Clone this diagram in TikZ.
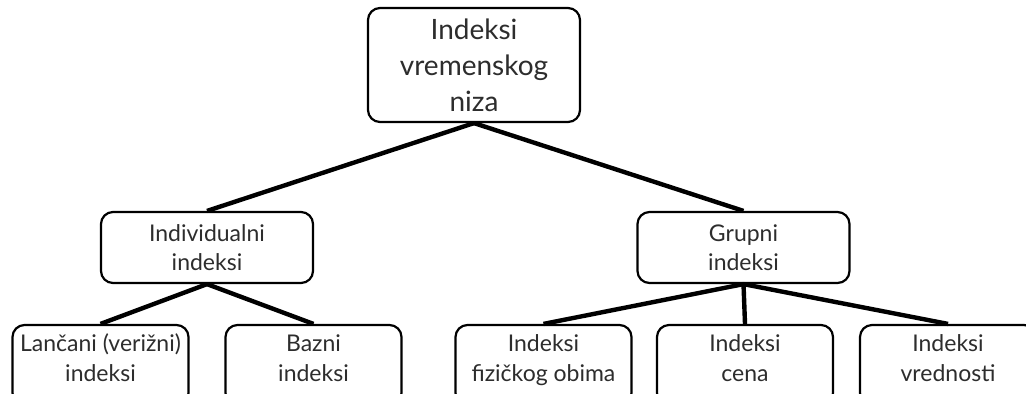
\documentclass[tikz,border=0pt]{standalone}
\usepackage{fontspec}
\setmainfont{Lato}
\definecolor{txtgray}{RGB}{45,45,45}

\begin{document}
\begin{tikzpicture}[x=0.5pt,y=-0.5pt]

%
% Styles
%
\tikzstyle{box} = [rectangle,rounded corners=6pt,draw=black,line width=1.1pt,
  text=txtgray,align=center,inner sep=0pt]
\tikzstyle{leafbox} = [box,minimum width=88pt,minimum height=40pt,text depth=7pt,
  font=\fontsize{11.5}{15}\selectfont]
\tikzstyle{midbox} = [box,minimum width=106pt,minimum height=35.5pt,
  font=\fontsize{11.5}{14.5}\selectfont]
\tikzstyle{topbox} = [box,minimum width=106pt,minimum height=57pt,
  font=\fontsize{14}{18}\selectfont]
\tikzstyle{link} = [line width=2.2pt]

\clip (0,0) rectangle (1026,393);
\fill[white] (0,0) rectangle (1026,393);

\node[topbox] (root) at (474, 65)   {Indeksi\\vremenskog\\niza};

\node[midbox] (ind)  at (207, 247.5) {Individualni\\indeksi};
\node[midbox] (grp)  at (743.5, 247.5) {Grupni\\indeksi};

\node[leafbox] (lanc) at (100.5, 365) {Lančani (verižni)\\indeksi};
\node[leafbox] (baz)  at (313.5, 365) {Bazni\\indeksi};
\node[leafbox] (fiz)  at (543.5, 365) {Indeksi\\fizičkog obima};
\node[leafbox] (cena) at (745, 365)   {Indeksi\\cena};
\node[leafbox] (vred) at (948, 365)   {Indeksi\\vrednosti};

\draw[link] (root.south) -- (ind.north);
\draw[link] (root.south) -- (grp.north);
\draw[link] (ind.south)  -- (lanc.north);
\draw[link] (ind.south)  -- (baz.north);
\draw[link] (grp.south)  -- (fiz.north);
\draw[link] (grp.south)  -- (cena.north);
\draw[link] (grp.south)  -- (vred.north);

\end{tikzpicture}
\end{document}
